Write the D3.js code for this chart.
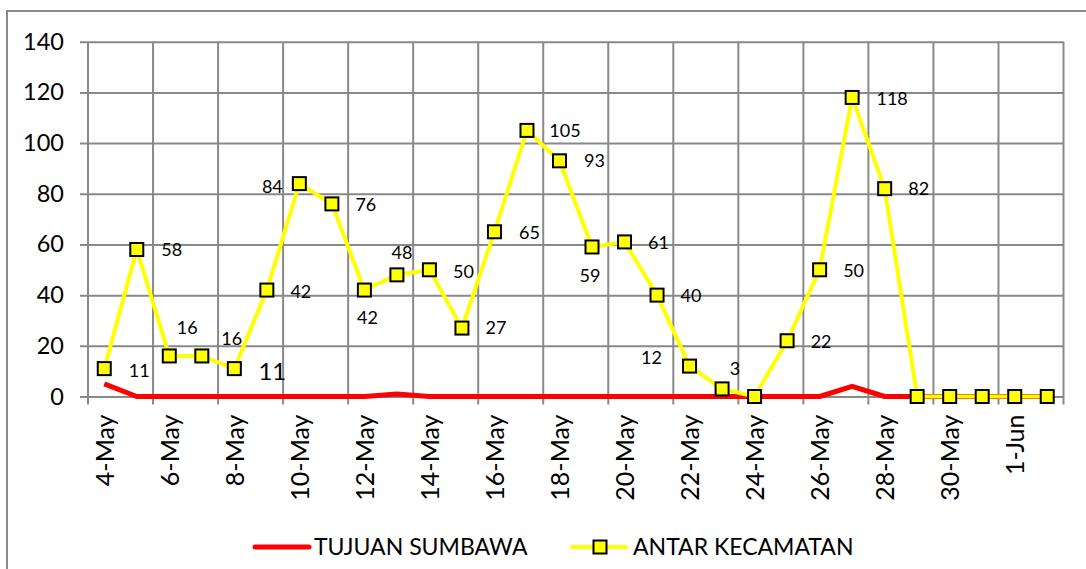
<!DOCTYPE html>
<html>
<head>
<meta charset="utf-8">
<script src="https://cdn.jsdelivr.net/npm/d3@7"></script>
<style>
  body { margin: 0; background: #fff; }
  svg { display: block; font-family: Lato, "Open Sans", sans-serif; }
  .grid line, .grid path { stroke: #898989; stroke-width: 2; }
  .grid text { fill: #000; }
</style>
</head>
<body>
<div id="chart"></div>
<script>
// Dates on the category axis (4 May .. 2 Jun)
var dates = ["4-May","5-May","6-May","7-May","8-May","9-May","10-May","11-May","12-May","13-May",
             "14-May","15-May","16-May","17-May","18-May","19-May","20-May","21-May","22-May","23-May",
             "24-May","25-May","26-May","27-May","28-May","29-May","30-May","31-May","1-Jun","2-Jun"];

var tujuanSumbawa = [5,0,0,0,0,0,0,0,0,1, 0,0,0,0,0,0,0,0,0,0, 0,0,0,4,0,0,0,0,0,0];
var antarKecamatan = [11,58,16,16,11,42,84,76,42,48, 50,27,65,105,93,59,61,40,12,3, 0,22,50,118,82,0,0,0,0,0];

var yTicks = [0,20,40,60,80,100,120,140];
var seriesNames = ["TUJUAN SUMBAWA", "ANTAR KECAMATAN"];

// where each data label sits relative to its marker (null = no label)
var labelOffset = [[35,2],[35,0],[18,-28],[30,-17],[38,3],[34,2],[-27,3],[34,1],[3,28],[5,-22],
                   [34,2],[34,0],[35,1],[38,0],[35,0],[-2,29],[34,1],[34,1],[-38,-8],[13,-20],
                   null,[34,1],[34,1],[40,1],[34,0],null,null,null,null,null];

var W = 1086, H = 569;
var margin = { left: 88, right: 1063.5, top: 41.7, bottom: 396.5 };

var svg = d3.select("#chart").append("svg")
  .attr("width", W).attr("height", H);

// outer chart border (only top/left are inside the picture)
svg.append("rect")
  .attr("x", 7).attr("y", 11)
  .attr("width", W + 20).attr("height", H + 20)
  .attr("fill", "none").attr("stroke", "#898989").attr("stroke-width", 2);

var x = d3.scaleBand().domain(dates).range([margin.left, margin.right]).padding(0);
var y = d3.scaleLinear().domain([0, 140]).range([margin.bottom, margin.top]);

// horizontal grid + y labels
var yAxis = d3.axisLeft(y).tickValues(yTicks).tickSize(-(margin.right - margin.left)).tickPadding(24);
var gy = svg.append("g").attr("class", "grid")
  .attr("transform", "translate(" + margin.left + ",0)")
  .call(yAxis);
gy.select(".domain").remove();
gy.selectAll(".tick line").attr("x1", -8);
gy.selectAll(".tick text").attr("font-size", 23.5).attr("font-family", "Lato, sans-serif");

// vertical grid at every second category boundary
var bounds = dates.filter(function(d, i) { return i % 2 == 0; }).map(function(d) { return x(d); });
bounds.push(margin.right);
svg.append("g").attr("class", "grid")
  .selectAll("line").data(bounds).enter().append("line")
  .attr("x1", function(d) { return d; }).attr("x2", function(d) { return d; })
  .attr("y1", margin.top).attr("y2", margin.bottom + 8);

// x labels
var xAxis = d3.axisBottom(x)
  .tickValues(dates.filter(function(d, i) { return i % 2 == 0; }))
  .tickSize(0).tickPadding(0);
var gx = svg.append("g").attr("class", "grid")
  .attr("transform", "translate(0," + margin.bottom + ")")
  .call(xAxis);
gx.select(".domain").remove();
gx.selectAll(".tick text")
  .attr("font-size", 25).attr("font-family", "Lato, sans-serif")
  .attr("transform", "rotate(-90)")
  .attr("text-anchor", "end")
  .attr("x", -18).attr("y", 1).attr("dy", "0.35em");

var cx = function(i) { return x(dates[i]) + x.bandwidth() / 2; };

var line = d3.line()
  .x(function(d, i) { return cx(i); })
  .y(function(d) { return y(d); });

svg.append("path").datum(tujuanSumbawa)
  .attr("d", line).attr("fill", "none")
  .attr("stroke", "#ff0000").attr("stroke-width", 5).attr("stroke-linejoin", "round");

svg.append("path").datum(antarKecamatan)
  .attr("d", line).attr("fill", "none")
  .attr("stroke", "#ffff00").attr("stroke-width", 4).attr("stroke-linejoin", "round");

svg.append("g").selectAll("rect").data(antarKecamatan).enter().append("rect")
  .attr("x", function(d, i) { return cx(i) - 6.5; })
  .attr("y", function(d) { return y(d) - 6.5; })
  .attr("width", 13).attr("height", 13)
  .attr("fill", "#ffff00").attr("stroke", "#000").attr("stroke-width", 2);

// data labels
var lbl = svg.append("g");
antarKecamatan.forEach(function(v, i) {
  if (!labelOffset[i]) return;
  lbl.append("text")
    .attr("x", cx(i) + labelOffset[i][0])
    .attr("y", y(v) + labelOffset[i][1])
    .attr("text-anchor", "middle")
    .attr("dy", "0.35em")
    .attr("font-size", i == 4 ? 24 : 18)
    .attr("fill", "#000")
    .text(v);
});

// legend
var ly = 547;
svg.append("line").attr("x1", 255).attr("x2", 309).attr("y1", ly).attr("y2", ly)
  .attr("stroke", "#ff0000").attr("stroke-width", 5).attr("stroke-linecap", "round");
svg.append("text").attr("x", 314).attr("y", ly).attr("dy", "0.35em")
  .attr("font-size", 23).attr("fill", "#000").text(seriesNames[0]);

svg.append("line").attr("x1", 572).attr("x2", 626).attr("y1", ly).attr("y2", ly)
  .attr("stroke", "#ffff00").attr("stroke-width", 4).attr("stroke-linecap", "round");
svg.append("rect").attr("x", 600 - 6.5).attr("y", ly - 6.5).attr("width", 13).attr("height", 13)
  .attr("fill", "#ffff00").attr("stroke", "#000").attr("stroke-width", 2);
svg.append("text").attr("x", 633).attr("y", ly).attr("dy", "0.35em")
  .attr("font-size", 23).attr("fill", "#000").text(seriesNames[1]);
</script>
</body>
</html>
